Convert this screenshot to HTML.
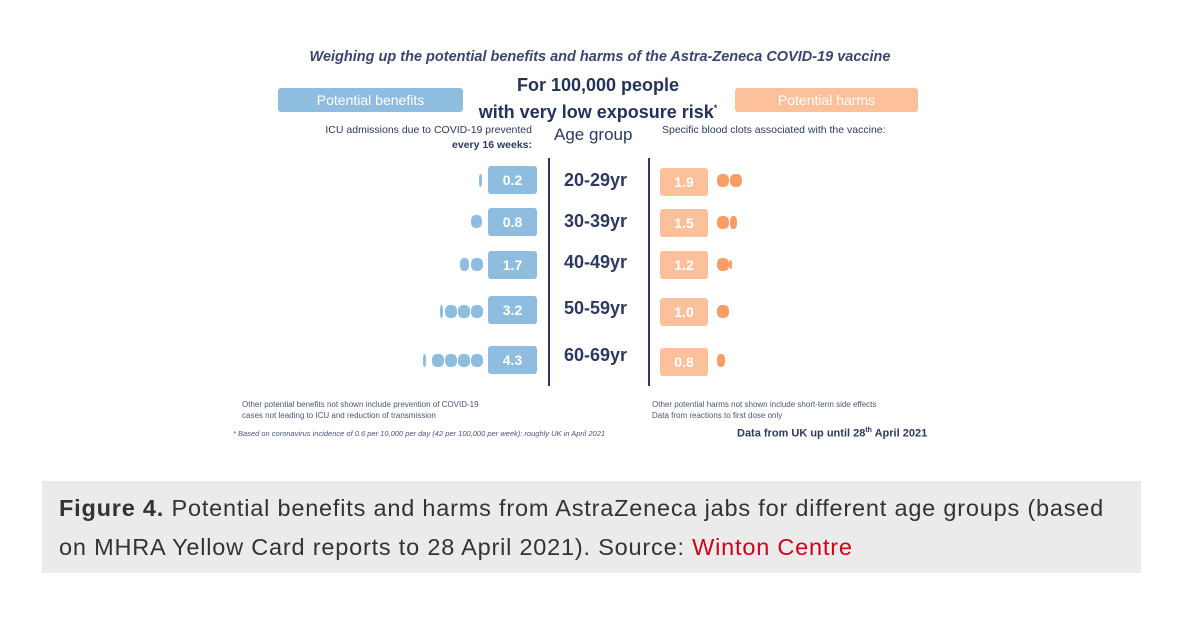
<!DOCTYPE html><html><head><style>
body{margin:0;width:1200px;height:622px;background:#fff;position:relative;font-family:"Liberation Sans",sans-serif;overflow:hidden}
.a{position:absolute;white-space:nowrap;color:#2d3a5e}
.bb{position:absolute;background:#8ebde0;color:#fff;border-radius:3px;text-align:center;font-weight:bold}
.ob{position:absolute;background:#fcc09a;color:#fff;border-radius:3px;text-align:center;font-weight:bold}
.d{position:absolute;width:12px;height:13px;border-radius:40%}
.b{background:#8ebde0}.o{background:#fb9d66}
</style></head><body>
<div class="a" style="left:0;width:1200px;text-align:center;top:49px;font-size:14.5px;font-style:italic;font-weight:bold;color:#3a4670">Weighing up the potential benefits and harms of the Astra-Zeneca COVID-19 vaccine</div>
<div class="a" style="left:0;width:1196px;text-align:center;top:74px;font-size:18px;font-weight:bold;line-height:23px;color:#253259">For 100,000 people<br>with very low exposure risk<sup style="font-size:9px">*</sup></div>
<div class="bb" style="left:278px;top:88px;width:185px;height:24px;line-height:24px;font-size:14px;font-weight:normal">Potential benefits</div>
<div class="ob" style="left:735px;top:88px;width:183px;height:24px;line-height:24px;font-size:14px;font-weight:normal">Potential harms</div>
<div class="a" style="left:290px;width:242px;text-align:right;top:123px;font-size:10.5px;line-height:15px">ICU admissions due to COVID-19 prevented<br><b>every 16 weeks:</b></div>
<div class="a" style="left:554px;top:125px;font-size:17px">Age group</div>
<div class="a" style="left:662px;top:124px;font-size:10.5px">Specific blood clots associated with the vaccine:</div>
<div style="position:absolute;left:548px;top:158px;width:2px;height:228px;background:#2d3a5e"></div>
<div style="position:absolute;left:648px;top:158px;width:2px;height:228px;background:#2d3a5e"></div>

<div class="bb" style="left:488px;top:166px;width:49px;height:28px;line-height:28px;font-size:14px">0.2</div>
<div class="bb" style="left:488px;top:208px;width:49px;height:28px;line-height:28px;font-size:14px">0.8</div>
<div class="bb" style="left:488px;top:251px;width:49px;height:28px;line-height:28px;font-size:14px">1.7</div>
<div class="bb" style="left:488px;top:296px;width:49px;height:28px;line-height:28px;font-size:14px">3.2</div>
<div class="bb" style="left:488px;top:346px;width:49px;height:28px;line-height:28px;font-size:14px">4.3</div>
<div class="ob" style="left:660px;top:168px;width:48px;height:28px;line-height:28px;font-size:14px">1.9</div>
<div class="ob" style="left:660px;top:209px;width:48px;height:28px;line-height:28px;font-size:14px">1.5</div>
<div class="ob" style="left:660px;top:251px;width:48px;height:28px;line-height:28px;font-size:14px">1.2</div>
<div class="ob" style="left:660px;top:298px;width:48px;height:28px;line-height:28px;font-size:14px">1.0</div>
<div class="ob" style="left:660px;top:348px;width:48px;height:28px;line-height:28px;font-size:14px">0.8</div>

<div class="a" style="left:564px;top:170px;font-size:18px;font-weight:bold">20-29yr</div>
<div class="a" style="left:564px;top:211px;font-size:18px;font-weight:bold">30-39yr</div>
<div class="a" style="left:564px;top:252px;font-size:18px;font-weight:bold">40-49yr</div>
<div class="a" style="left:564px;top:298px;font-size:18px;font-weight:bold">50-59yr</div>
<div class="a" style="left:564px;top:345px;font-size:18px;font-weight:bold">60-69yr</div>

<div class="d b" style="left:479px;top:174px;width:3px"></div>
<div class="d b" style="left:471px;top:215px;width:11px"></div>
<div class="d b" style="left:460px;top:258px;width:9px"></div><div class="d b" style="left:471px;top:258px"></div>
<div class="d b" style="left:440px;top:305px;width:3px"></div><div class="d b" style="left:445px;top:305px"></div><div class="d b" style="left:458px;top:305px"></div><div class="d b" style="left:471px;top:305px"></div>
<div class="d b" style="left:423px;top:354px;width:3px"></div><div class="d b" style="left:432px;top:354px"></div><div class="d b" style="left:445px;top:354px"></div><div class="d b" style="left:458px;top:354px"></div><div class="d b" style="left:471px;top:354px"></div>
<div class="d o" style="left:717px;top:174px"></div><div class="d o" style="left:730px;top:174px"></div>
<div class="d o" style="left:717px;top:216px"></div><div class="d o" style="left:730px;top:216px;width:7px"></div>
<div class="d o" style="left:717px;top:258px"></div><div class="d o" style="left:729px;top:260px;width:3px;height:9px"></div>
<div class="d o" style="left:717px;top:305px"></div>
<div class="d o" style="left:717px;top:354px;width:8px"></div>

<div class="a" style="left:242px;top:399px;font-size:8px;line-height:11px;color:#4a5578">Other potential benefits not shown include prevention of COVID-19<br>cases not leading to ICU and reduction of transmission</div>
<div class="a" style="left:233px;top:429px;font-size:7.5px;font-style:italic;color:#4a5578">* Based on coronavirus incidence of 0.6 per 10,000 per day (42 per 100,000 per week): roughly UK in April 2021</div>
<div class="a" style="left:652px;top:399px;font-size:8px;line-height:11px;color:#4a5578">Other potential harms not shown include short-term side effects<br>Data from reactions to first dose only</div>
<div class="a" style="left:737px;top:427px;font-size:11px;font-weight:bold">Data from UK up until 28<sup style="font-size:7px">th</sup> April 2021</div>

<div style="position:absolute;left:42px;top:481px;width:1099px;height:92px;background:#ebebeb"></div>
<div class="a" style="left:59px;top:489px;font-size:23.5px;letter-spacing:0.8px;line-height:39px;color:#333;white-space:normal;width:1075px"><b>Figure 4.</b> Potential benefits and harms from AstraZeneca jabs for different age groups (based on MHRA Yellow Card reports to 28 April 2021). Source: <span style="color:#d0021b">Winton Centre</span></div>
</body></html>
